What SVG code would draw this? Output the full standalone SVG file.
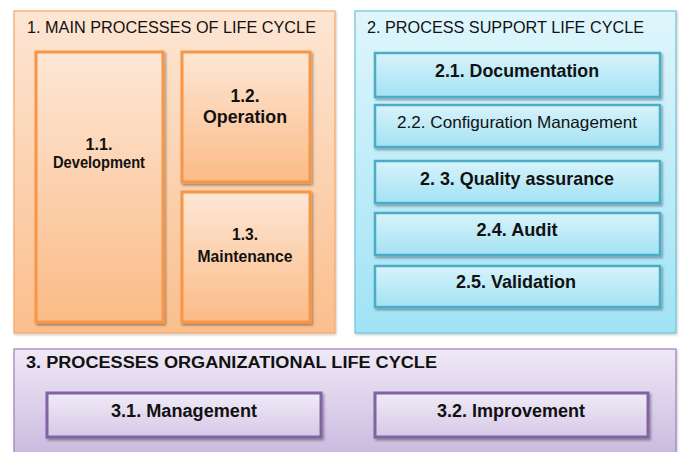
<svg xmlns="http://www.w3.org/2000/svg" width="680" height="452" viewBox="0 0 680 452">
<defs>
<linearGradient id="gOc" x1="0" y1="0" x2="0" y2="1"><stop offset="0" stop-color="#fde6d4"/><stop offset="1" stop-color="#fbbf8d"/></linearGradient>
<linearGradient id="gOb" x1="0" y1="0" x2="0" y2="1"><stop offset="0" stop-color="#fde7d6"/><stop offset="1" stop-color="#fbbb86"/></linearGradient>
<linearGradient id="gBc" x1="0" y1="0" x2="0" y2="1"><stop offset="0" stop-color="#dff6fc"/><stop offset="1" stop-color="#a0e3f5"/></linearGradient>
<linearGradient id="gBb" x1="0" y1="0" x2="0" y2="1"><stop offset="0" stop-color="#d8f3fb"/><stop offset="1" stop-color="#a3e2f4"/></linearGradient>
<linearGradient id="gPc" x1="0" y1="0" x2="0" y2="1"><stop offset="0" stop-color="#efe9f6"/><stop offset="1" stop-color="#c9b8df"/></linearGradient>
<linearGradient id="gPb" x1="0" y1="0" x2="0" y2="1"><stop offset="0" stop-color="#f0ebf7"/><stop offset="1" stop-color="#d6c8e7"/></linearGradient>
<filter id="sh" x="-10%" y="-10%" width="125%" height="130%"><feDropShadow dx="1.5" dy="2" stdDeviation="1.2" flood-color="#000" flood-opacity="0.35"/></filter>
<filter id="shc" x="-5%" y="-5%" width="110%" height="110%"><feDropShadow dx="1" dy="1.5" stdDeviation="1.2" flood-color="#000" flood-opacity="0.2"/></filter>
</defs>
<style>
text{font-family:"Liberation Sans",Arial,sans-serif;fill:#111;}
.t{font-size:17px;}
.b{font-weight:bold;text-anchor:middle;}
.oc{fill:url(#gOc);stroke:#f6a567;stroke-width:1.2;}
.ob{fill:url(#gOb);stroke:#f79646;stroke-width:3;}
.bc{fill:url(#gBc);stroke:#6ec3d9;stroke-width:1.2;}
.bb{fill:url(#gBb);stroke:#4bacc6;stroke-width:2.5;}
.pc{fill:url(#gPc);stroke:#9a80b8;stroke-width:1.2;}
.pb{fill:url(#gPb);stroke:#8064a2;stroke-width:3;}
</style>
<rect width="680" height="452" fill="#ffffff"/>

<g id="group1">
<rect class="oc" x="14" y="11" width="321" height="322" filter="url(#shc)"/>
<text class="t" x="27" y="33" textLength="289" lengthAdjust="spacingAndGlyphs">1. MAIN PROCESSES OF LIFE CYCLE</text>
</g>
<g id="n11">
<rect class="ob" x="36" y="52" width="127" height="270" filter="url(#sh)"/>
<text class="b" x="99" y="150" font-size="16" textLength="27" lengthAdjust="spacingAndGlyphs">1.1.</text>
<text class="b" x="99" y="168" font-size="16" textLength="92" lengthAdjust="spacingAndGlyphs">Development</text>
</g>
<g id="n12">
<rect class="ob" x="182" y="52" width="128" height="130" filter="url(#sh)"/>
<text class="b" x="245" y="102" font-size="19" textLength="29" lengthAdjust="spacingAndGlyphs">1.2.</text>
<text class="b" x="245" y="123" font-size="19" textLength="84" lengthAdjust="spacingAndGlyphs">Operation</text>
</g>
<g id="n13">
<rect class="ob" x="182" y="192" width="128" height="130" filter="url(#sh)"/>
<text class="b" x="245" y="240" font-size="16.5" textLength="26" lengthAdjust="spacingAndGlyphs">1.3.</text>
<text class="b" x="245" y="262" font-size="16.5" textLength="95" lengthAdjust="spacingAndGlyphs">Maintenance</text>
</g>

<g id="group2">
<rect class="bc" x="355" y="11" width="321" height="322" filter="url(#shc)"/>
<text class="t" x="367" y="33" textLength="277" lengthAdjust="spacingAndGlyphs">2. PROCESS SUPPORT LIFE CYCLE</text>
</g>
<g id="n21">
<rect class="bb" x="375" y="53" width="285" height="44" filter="url(#sh)"/>
<text class="b" x="517" y="77" font-size="19" textLength="164" lengthAdjust="spacingAndGlyphs">2.1. Documentation</text>
</g>
<g id="n22">
<rect class="bb" x="375" y="105" width="285" height="42" filter="url(#sh)"/>
<text x="517" y="128" font-size="16.5" text-anchor="middle" textLength="240" lengthAdjust="spacingAndGlyphs">2.2. Configuration Management</text>
</g>
<g id="n23">
<rect class="bb" x="375" y="161" width="285" height="42" filter="url(#sh)"/>
<text class="b" x="517" y="185" font-size="19" textLength="194" lengthAdjust="spacingAndGlyphs">2. 3. Quality assurance</text>
</g>
<g id="n24">
<rect class="bb" x="375" y="213" width="285" height="42" filter="url(#sh)"/>
<text class="b" x="517" y="236" font-size="19" textLength="81" lengthAdjust="spacingAndGlyphs">2.4. Audit</text>
</g>
<g id="n25">
<rect class="bb" x="375" y="266" width="285" height="41" filter="url(#sh)"/>
<text class="b" x="516" y="288" font-size="19" textLength="120" lengthAdjust="spacingAndGlyphs">2.5. Validation</text>
</g>

<g id="group3">
<rect class="pc" x="14" y="349" width="662" height="110" filter="url(#shc)"/>
<text x="26" y="368" font-size="16" font-weight="bold" textLength="411" lengthAdjust="spacingAndGlyphs">3. PROCESSES ORGANIZATIONAL LIFE CYCLE</text>
</g>
<g id="n31">
<rect class="pb" x="47" y="393" width="274" height="44" filter="url(#sh)"/>
<text class="b" x="184" y="417" font-size="18" textLength="146" lengthAdjust="spacingAndGlyphs">3.1. Management</text>
</g>
<g id="n32">
<rect class="pb" x="375" y="393" width="273" height="44" filter="url(#sh)"/>
<text class="b" x="511" y="417" font-size="18" textLength="148" lengthAdjust="spacingAndGlyphs">3.2. Improvement</text>
</g>
<g id="connectors"></g>
</svg>
